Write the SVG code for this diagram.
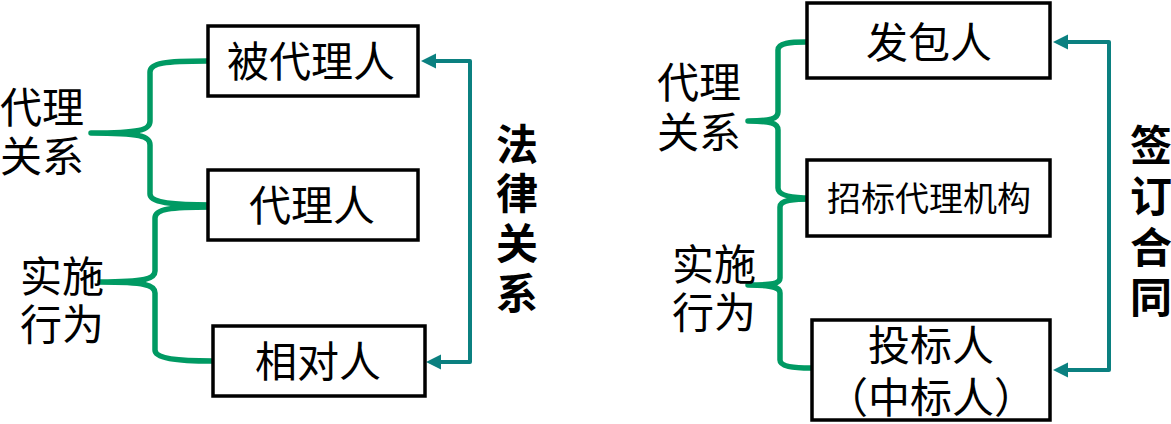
<svg xmlns="http://www.w3.org/2000/svg" width="1171" height="424" viewBox="0 0 1171 424">
<style>
.box{fill:#fff;stroke:#000;stroke-width:3.5}
.t{font-family:"Noto Sans CJK SC","Noto Sans",sans-serif;font-size:42px;fill:#000;text-anchor:middle}
.s{font-size:34px}
.b{font-weight:bold}
.brace{fill:none;stroke:#009A63;stroke-width:5.5;stroke-linecap:round;stroke-linejoin:round}
.arr{fill:none;stroke:#0B8080;stroke-width:4;stroke-linejoin:round}
</style>
<defs>
<marker id="ah" markerUnits="userSpaceOnUse" markerWidth="16" markerHeight="16" refX="3" refY="7.5" orient="auto-start-reverse">
<path d="M0,0 L15,7.5 L0,15 z" fill="#0B8080"/>
</marker>
</defs>
<g id="connectors">
<path class="brace" d="M207,61 C165,61 150,63 150,72 L150,121 C150,130 140,133 91,133 C140,133 150,136 150,145 L150,194 C150,202 170,205 211,205"/>
<path class="brace" d="M211,207 C170,207 155,209 155,218 L155,271 C155,279 145,282 100,282 C145,282 155,285 155,293 L155,350 C155,358 175,361 212,361"/>
<path class="arr" d="M433,61 H470 V362 H438" marker-start="url(#ah)" marker-end="url(#ah)"/>
<path class="brace" d="M806,42 C790,42 778,43 778,50 L778,112 C778,119 770,121 748,121 C770,121 778,123 778,130 L778,188 C778,195 790,198 811,198"/>
<path class="brace" d="M811,199 C792,199 780,200 780,207 L780,278 C780,284 772,285 748,285 C772,285 780,287 780,293 L780,360 C780,366 792,368 811,368"/>
<path class="arr" d="M1065,42 H1109 V370 H1065" marker-start="url(#ah)" marker-end="url(#ah)"/>
</g>
<g id="n-beidailiren"><rect class="box" x="208" y="26" width="210" height="70"/><text class="t" x="311" y="77">被代理人</text></g>
<g id="n-dailiren"><rect class="box" x="208" y="170" width="210" height="70"/><text class="t" x="312" y="221">代理人</text></g>
<g id="n-xiangduiren"><rect class="box" x="213" y="326" width="212" height="70"/><text class="t" x="318" y="377">相对人</text></g>
<g id="l-daili-l"><text class="t" x="42" y="123">代理<tspan x="42" dy="49">关系</tspan></text></g>
<g id="l-shishi-l"><text class="t" x="62" y="292">实施<tspan x="62" dy="48">行为</tspan></text></g>
<g id="l-falv"><text class="t b" x="517" y="160">法<tspan x="517" dy="49">律</tspan><tspan x="517" dy="50">关</tspan><tspan x="517" dy="50">系</tspan></text></g>
<g id="n-fabaoren"><rect class="box" x="807" y="3" width="243" height="75"/><text class="t" x="929" y="58">发包人</text></g>
<g id="n-zhaobiao"><rect class="box" x="807" y="160" width="243" height="76"/><text class="t s" x="929" y="211">招标代理机构</text></g>
<g id="n-toubiaoren"><rect class="box" x="812" y="320" width="238" height="100"/><text class="t" x="931" y="361">投标人<tspan x="931" dy="52">（中标人）</tspan></text></g>
<g id="l-daili-r"><text class="t" x="699" y="98">代理<tspan x="699" dy="50">关系</tspan></text></g>
<g id="l-shishi-r"><text class="t" x="714" y="280">实施<tspan x="714" dy="48">行为</tspan></text></g>
<g id="l-qianding"><text class="t b" x="1151" y="161">签<tspan x="1151" dy="51">订</tspan><tspan x="1151" dy="51">合</tspan><tspan x="1151" dy="50">同</tspan></text></g>
</svg>
